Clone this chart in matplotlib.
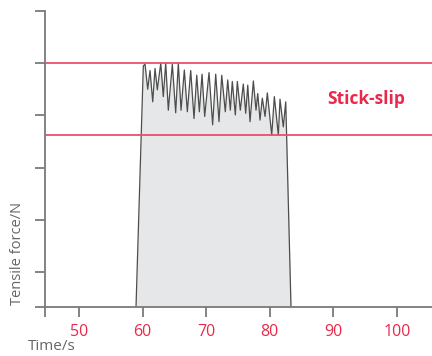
import matplotlib
matplotlib.use("Agg")
import matplotlib.pyplot as plt
import numpy as np

# time (s) and tensile force (arbitrary units)
time_s = [58.96, 60.11, 60.38, 60.80, 61.16, 61.59, 61.95, 62.31, 62.85, 63.25,
          63.63, 64.04, 64.67, 65.20, 65.61, 66.04, 66.56, 67.03, 67.56, 68.08,
          68.51, 68.92, 69.34, 69.76, 70.44, 71.01, 71.49, 72.01, 72.44, 73.00,
          73.38, 73.79, 74.10, 74.58, 74.89, 75.36, 75.83, 76.21, 76.53, 76.89,
          77.41, 77.83, 78.10, 78.46, 78.82, 79.25, 79.61, 80.30, 80.71, 81.34,
          81.60, 82.12, 82.50, 82.64, 83.33]
force = [-0.67, 3.95, 3.98, 3.50, 3.86, 3.26, 3.90, 3.49, 4.00, 3.36,
         4.00, 3.10, 3.98, 3.05, 4.00, 3.10, 3.87, 3.07, 3.86, 2.94,
         3.77, 3.07, 3.79, 2.98, 3.82, 2.82, 3.79, 2.88, 3.77, 3.07,
         3.68, 3.10, 3.65, 3.01, 3.65, 3.10, 3.60, 3.04, 3.58, 2.88,
         3.66, 3.10, 3.42, 2.91, 3.33, 2.98, 3.43, 2.62, 3.36, 2.62,
         3.31, 2.78, 3.26, 2.62, -0.67]

band_upper = 4.0
band_lower = 2.63

x_ticks = [50, 60, 70, 80, 90, 100]
x_min, x_max = 44.65, 105.5
y_min, y_max = -0.67, 5.0

red = "#e8294b"
grey = "#7a7a7a"

plt.rcParams["font.family"] = ["Open Sans", "DejaVu Sans"]

fig = plt.figure(figsize=(4.32, 3.56), dpi=100)
ax = fig.add_axes([45 / 432, 49 / 356, 387 / 432, 296 / 356])

ax.fill_between(time_s, force, y_min, color="#e6e7e8", lw=0)
ax.plot(time_s, force, color="#4d4d4d", lw=0.9)
ax.axhline(band_upper, color="#e8506a", lw=1.3)
ax.axhline(band_lower, color="#e8506a", lw=1.3)

ax.set_xlim(x_min, x_max)
ax.set_ylim(y_min, y_max)

ax.set_xticks([x_min] + x_ticks)
ax.set_xticklabels([""] + [str(v) for v in x_ticks])
ax.set_yticks([y_min, 0, 1, 2, 3, 4, 5])
ax.set_yticklabels([])

for s in ["top", "right"]:
    ax.spines[s].set_visible(False)
for s in ["left", "bottom"]:
    ax.spines[s].set_color(grey)
    ax.spines[s].set_linewidth(1.3)

ax.tick_params(axis="both", direction="out", length=7, width=1.3, color=grey)
ax.tick_params(axis="x", labelcolor=red, labelsize=11.5, pad=5)

ax.text(366 / 432, 1 - 99 / 356, "Stick-slip", transform=fig.transFigure,
        color=red, fontsize=12.5, fontweight="bold", ha="center", va="center")

fig.text(28 / 432, 1 - 347 / 356, "Time/s", color="#666666", fontsize=11,
         ha="left", va="center")
fig.text(18 / 432, 1 - 305 / 356, "Tensile force/N", color="#666666",
         fontsize=10.5, rotation=90, ha="center", va="bottom")

fig.savefig("out.png", dpi=100)
